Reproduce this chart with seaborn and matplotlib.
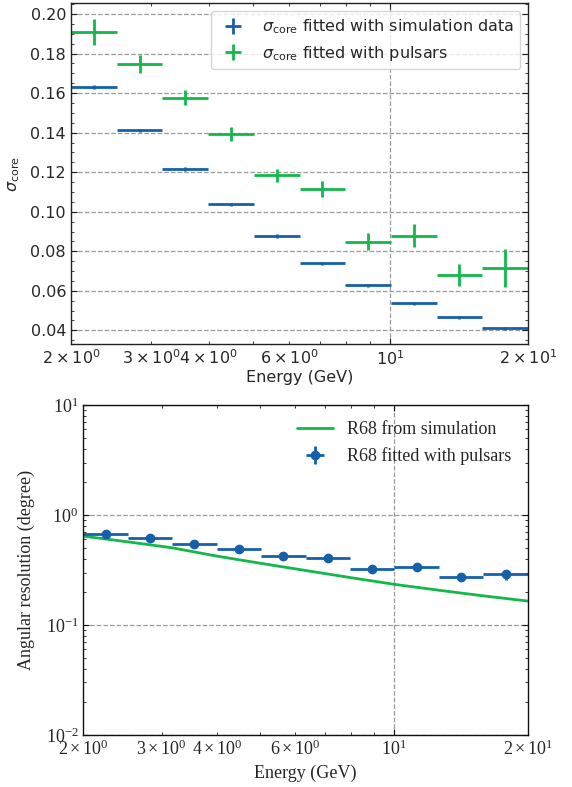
import numpy as np
import pandas as pd
import matplotlib
matplotlib.use("Agg")
import matplotlib.pyplot as plt
import seaborn as sns
from matplotlib.ticker import AutoMinorLocator

# ---------------- data ----------------
bin_edges = [2.0, 2.518, 3.170, 3.991, 5.024, 6.325, 7.962, 10.024, 12.619, 15.887, 20.0]

sigma_sim = [0.1630, 0.1412, 0.1215, 0.1037, 0.0876, 0.0739, 0.0627, 0.0536, 0.0466, 0.0410]
sigma_sim_err = [0.0009, 0.0009, 0.0009, 0.0009, 0.0009, 0.0009, 0.0009, 0.0009, 0.0009, 0.0009]

sigma_psr = [0.1909, 0.1746, 0.1576, 0.1395, 0.1185, 0.1116, 0.0849, 0.0879, 0.0679, 0.0715]
sigma_psr_err = [0.0064, 0.0045, 0.0038, 0.0036, 0.0033, 0.0040, 0.0044, 0.0058, 0.0057, 0.0096]

r68_psr = [0.668, 0.618, 0.545, 0.491, 0.424, 0.407, 0.326, 0.340, 0.273, 0.289]
r68_psr_err = [0.020, 0.020, 0.018, 0.016, 0.015, 0.015, 0.014, 0.016, 0.014, 0.030]

sim_energy = [2.0, 2.518, 3.170, 3.991, 5.024, 6.325, 7.962, 10.024, 12.619, 15.887, 20.0]
r68_sim = [0.642, 0.570, 0.503, 0.423, 0.363, 0.313, 0.270, 0.234, 0.207, 0.184, 0.165]

BLUE = "#1660a9"
GREEN = "#12b94a"
GRID = "#9a9a9a"

lo = np.array(bin_edges[:-1])
hi = np.array(bin_edges[1:])
centers = np.sqrt(lo * hi)
xerr = [centers - lo, hi - centers]

sns.set_style("ticks")
plt.rcParams["font.family"] = ["DejaVu Sans"]
plt.rcParams["mathtext.fontset"] = "dejavusans"

fig = plt.figure(figsize=(5.72, 7.87), dpi=100)
ax1 = fig.add_axes([0.1241, 0.5629, 0.799, 0.4333])
ax2 = fig.add_axes([0.1457, 0.0661, 0.777, 0.4193])

# ---------------- top panel ----------------
FS1 = 11.5
ax1.errorbar(centers, sigma_sim, xerr=xerr, yerr=sigma_sim_err, fmt="none",
             ecolor=BLUE, elinewidth=2, label=r"$\sigma_{\rm core}$ fitted with simulation data")
ax1.errorbar(centers, sigma_psr, xerr=xerr, yerr=sigma_psr_err, fmt="none",
             ecolor=GREEN, elinewidth=2, label=r"$\sigma_{\rm core}$ fitted with pulsars")
ax1.set_xscale("log")
ax1.set_xlim(2, 20)
ax1.set_ylim(0.0331, 0.2056)
ax1.yaxis.set_minor_locator(AutoMinorLocator(4))
ax1.set_axisbelow(True)
ax1.grid(True, which="major", ls="--", color=GRID, lw=0.9)
ax1.tick_params(which="both", direction="in", top=True, right=True, labelsize=FS1, color="#222222")
ax1.tick_params(which="major", length=4)
ax1.tick_params(which="minor", length=2.5)
ax1.set_xlabel("Energy (GeV)", fontsize=FS1, labelpad=2)
ax1.set_ylabel(r"$\sigma_{\rm core}$", fontsize=FS1, labelpad=6)
for s in ax1.spines.values():
    s.set_color("#222222")
    s.set_linewidth(1.0)
ax1.legend(loc="upper right", fontsize=FS1)

# ---------------- bottom panel ----------------
FS2 = 13
SERIF = "Liberation Serif"
sim_df = pd.DataFrame({"energy": sim_energy, "r68": r68_sim})
sns.lineplot(data=sim_df, x="energy", y="r68", ax=ax2, color=GREEN, lw=2,
             label="R68 from simulation")
ax2.errorbar(centers, r68_psr, xerr=xerr, yerr=r68_psr_err, fmt="o", ms=6,
             color=BLUE, ecolor=BLUE, elinewidth=2, label="R68 fitted with pulsars")
ax2.set_xscale("log")
ax2.set_yscale("log")
ax2.set_xlim(2, 20)
ax2.set_ylim(1e-2, 1e1)
ax2.set_axisbelow(True)
ax2.grid(True, which="major", ls="--", color=GRID, lw=0.9)
ax2.tick_params(which="both", direction="in", top=True, right=True, labelsize=FS2, color="#111111")
ax2.tick_params(which="major", length=4)
ax2.tick_params(which="minor", length=2.5)
ax2.set_xlabel("Energy (GeV)", fontsize=FS2, family=SERIF, labelpad=4)
ax2.set_ylabel("Angular resolution (degree)", fontsize=FS2, family=SERIF, labelpad=8)
for s in ax2.spines.values():
    s.set_color("#111111")
    s.set_linewidth(1.0)
ax2.legend(loc="upper right", frameon=False, prop={"family": SERIF, "size": FS2})

fig.canvas.draw()
ticks = (ax2.xaxis.get_major_ticks() + ax2.xaxis.get_minor_ticks()
         + ax2.yaxis.get_major_ticks() + ax2.yaxis.get_minor_ticks())
for t in ticks:
    for lbl in (t.label1, t.label2):
        lbl.set_fontfamily(SERIF)
        lbl.set_math_fontfamily("stix")
        lbl.set_fontsize(FS2)

fig.savefig("out.png", dpi=100)
